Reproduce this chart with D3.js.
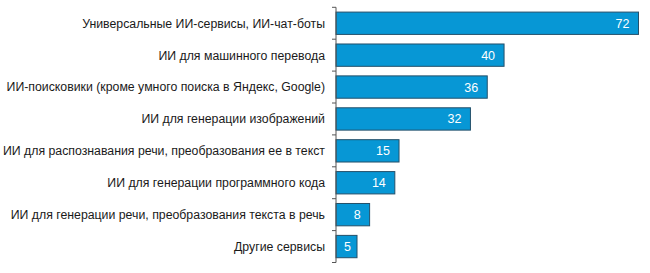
<!DOCTYPE html>
<html>
<head>
<meta charset="utf-8">
<script src="https://cdn.jsdelivr.net/npm/d3@7"></script>
<style>
  body { margin: 0; background: #fff; }
  text { font-family: "Liberation Sans", Arial, sans-serif; }
</style>
</head>
<body>
<div id="chart"></div>
<script>
// categories and values, top to bottom
const categories = [
  "Универсальные ИИ-сервисы, ИИ-чат-боты",
  "ИИ для машинного перевода",
  "ИИ-поисковики (кроме умного поиска в Яндекс, Google)",
  "ИИ для генерации изображений",
  "ИИ для распознавания речи, преобразования ее в текст",
  "ИИ для генерации программного кода",
  "ИИ для генерации речи, преобразования текста в речь",
  "Другие сервисы"
];
const values = [72, 40, 36, 32, 15, 14, 8, 5];

const width = 650, height = 273;
const margin = {top: 7.3, right: 11.5, bottom: 10.5, left: 336};

const svg = d3.select("#chart").append("svg")
  .attr("width", width)
  .attr("height", height);

const x = d3.scaleLinear()
  .domain([0, 72])
  .range([margin.left, width - margin.right]);

const y = d3.scaleBand()
  .domain(categories)
  .range([margin.top, height - margin.bottom])
  .paddingInner(0.3)
  .paddingOuter(0.15);

const data = categories.map((c, i) => ({cat: c, val: values[i]}));

// bars
svg.selectAll(".bar")
  .data(data)
  .enter().append("rect")
  .attr("class", "bar")
  .attr("x", x(0))
  .attr("y", d => y(d.cat))
  .attr("width", d => x(d.val) - x(0))
  .attr("height", y.bandwidth())
  .attr("fill", "#0797d5")
  .attr("stroke", "#24506a")
  .attr("stroke-width", 1);

// value labels inside bars
svg.selectAll(".val")
  .data(data)
  .enter().append("text")
  .attr("class", "val")
  .attr("x", d => Math.max(x(d.val) - 9, x(0) + 15))
  .attr("y", d => y(d.cat) + y.bandwidth() / 2)
  .attr("dy", "0.36em")
  .attr("text-anchor", "end")
  .attr("fill", "#fff")
  .attr("font-size", "12.5px")
  .text(d => d.val);

// category axis with ticks between bands
const step = y.step();
const edges = d3.range(categories.length + 1).map(i => margin.top + i * step);

const axis = svg.append("g").attr("stroke", "#555").attr("stroke-width", 1);
axis.append("line")
  .attr("x1", x(0)).attr("x2", x(0))
  .attr("y1", edges[0]).attr("y2", edges[edges.length - 1]);
axis.selectAll(".tick")
  .data(edges)
  .enter().append("line")
  .attr("class", "tick")
  .attr("x1", x(0) - 4).attr("x2", x(0))
  .attr("y1", d => d).attr("y2", d => d);

svg.selectAll(".lab")
  .data(data)
  .enter().append("text")
  .attr("class", "lab")
  .attr("x", x(0) - 11)
  .attr("y", d => y(d.cat) + y.bandwidth() / 2)
  .attr("dy", "0.36em")
  .attr("text-anchor", "end")
  .attr("fill", "#1a1a1a")
  .attr("font-size", "12.3px")
  .text(d => d.cat);
</script>
</body>
</html>
